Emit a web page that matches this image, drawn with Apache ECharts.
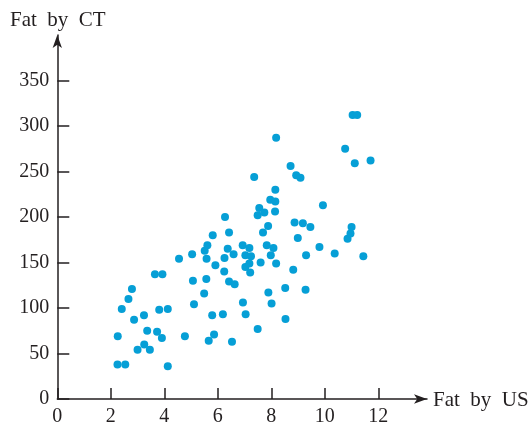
<!DOCTYPE html>
<html>
<head>
<meta charset="utf-8">
<script src="https://cdn.jsdelivr.net/npm/echarts@6/dist/echarts.min.js"></script>
<style>html,body{margin:0;padding:0;background:#fff;}#c{width:532px;height:427px;}</style>
</head>
<body>
<div id="c"></div>
<script>
var xTitle = 'Fat by US';
var yTitle = 'Fat by CT';
var xTicks = [0, 2, 4, 6, 8, 10, 12];
var yTicks = [0, 50, 100, 150, 200, 250, 300, 350];
var fatUS = [2.25,2.54,2.26,2.41,2.66,2.79,2.87,3.00,3.24,3.25,3.36,3.46,3.65,3.73,3.81,3.91,3.93,4.13,4.13,4.55,
  4.77,5.04,5.07,5.11,5.49,5.51,5.57,5.58,5.61,5.66,5.79,5.81,5.86,5.91,6.19,6.24,6.25,6.27,6.37,6.42,
  6.42,6.53,6.59,6.63,6.93,6.94,7.03,7.03,7.04,7.18,7.18,7.21,7.24,7.36,7.49,7.49,7.55,7.60,7.69,7.74,
  7.83,7.88,7.89,7.96,7.98,8.01,8.08,8.14,8.15,8.15,8.18,8.52,8.53,8.72,8.82,8.87,8.93,8.99,9.09,9.18,
  9.28,9.30,9.46,9.80,9.93,10.37,10.76,10.85,10.96,11.00,11.12,11.44,11.71,8.18,11.04,11.21];
var fatCT = [38,38,69,99,110,121,87,54,92,60,75,54,137,74,98,67,137,99,36,154,
  69,159,130,104,116,163,132,154,169,64,92,180,71,147,93,140,155,200,165,183,
  129,63,159,126,169,106,158,145,93,166,149,139,157,244,202,77,210,150,183,205,
  169,190,117,219,158,105,166,206,230,217,149,122,88,256,142,194,246,177,243,193,
  120,158,189,167,213,160,275,176,182,189,259,157,262,287,312,312];

var points = fatUS.map(function (x, i) { return [x, fatCT[i]]; });
var axisColor = '#231f20';
var font = '"Liberation Serif", "Times New Roman", serif';

var chart = echarts.init(document.getElementById('c'), null, {renderer: 'canvas'});
chart.setOption({
  animation: false,
  backgroundColor: '#ffffff',
  grid: {left: 57.3, right: 105, top: 35, bottom: 26.3, containLabel: false},
  xAxis: {
    type: 'value', min: 0, max: 13.82, interval: 2,
    splitLine: {show: false},
    axisLine: {show: true, onZero: false, symbol: ['none', 'arrow'], symbolSize: [7, 13],
      lineStyle: {color: axisColor, width: 1.5}},
    axisTick: {show: true, inside: true, length: 11, customValues: xTicks,
      lineStyle: {color: axisColor, width: 1.5}},
    axisLabel: {show: true, customValues: xTicks, margin: 8, color: axisColor,
      fontFamily: font, fontSize: 20}
  },
  yAxis: {
    type: 'value', min: 0, max: 400, interval: 50,
    splitLine: {show: false},
    axisLine: {show: true, onZero: false, symbol: ['none', 'arrow'], symbolSize: [7, 13],
      lineStyle: {color: axisColor, width: 1.5}},
    axisTick: {show: true, inside: true, length: 12, customValues: yTicks,
      lineStyle: {color: axisColor, width: 1.5}},
    axisLabel: {show: true, customValues: yTicks, margin: 8, color: axisColor,
      fontFamily: font, fontSize: 20}
  },
  graphic: [
    {type: 'text', left: 10, top: 10,
      style: {text: 'Fat  by  CT', fill: axisColor, font: '21px ' + font}},
    {type: 'text', left: 433, top: 390,
      style: {text: 'Fat  by  US', fill: axisColor, font: '21px ' + font}}
  ],
  series: [{
    type: 'scatter',
    data: points,
    symbol: 'circle',
    symbolSize: 8,
    itemStyle: {color: '#069fd6', opacity: 1}
  }]
});
</script>
</body>
</html>
